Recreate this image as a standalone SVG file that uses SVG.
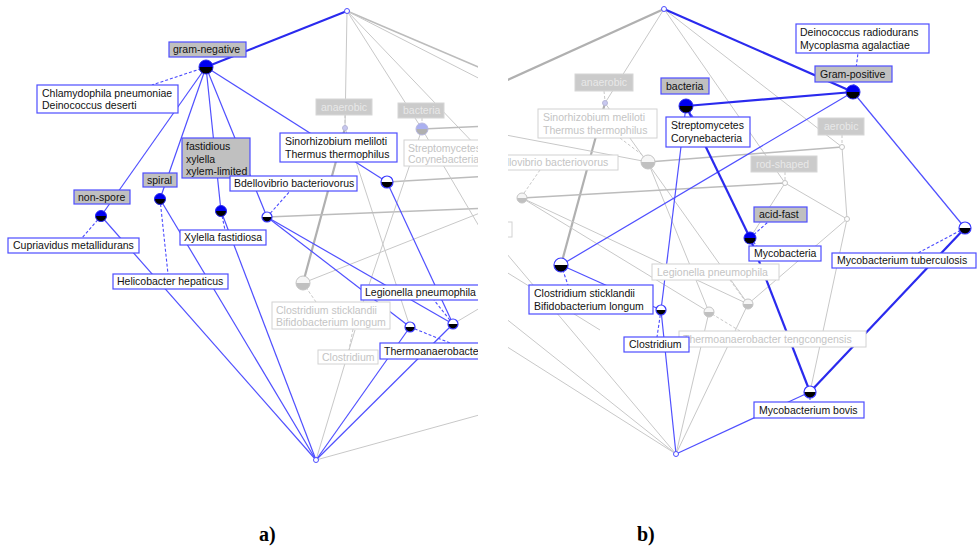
<svg xmlns="http://www.w3.org/2000/svg" xmlns:xlink="http://www.w3.org/1999/xlink" width="977" height="548" viewBox="0 0 977 548">
<style>
line{fill:none}
.gl{stroke:#c8c8c8;stroke-width:1}
.gm{stroke:#bcbcbc;stroke-width:1.6}
.gt{stroke:#b0b0b0;stroke-width:2.2}
.gd{stroke:#c8c8c8;stroke-width:1;stroke-dasharray:3 2}
.bl{stroke:#5050ff;stroke-width:1.2}
.bt{stroke:#2a2aee;stroke-width:2.2}
.bd{stroke:#4a4aff;stroke-width:1.1;stroke-dasharray:3 2}
.att{fill:#c0c0c0;stroke:#4d4dff;stroke-width:1.2}
.obj{fill:#fff;stroke:#4d4dff;stroke-width:1.2}
.fatt{fill:#cbcbcb;stroke:#d6d6d6;stroke-width:1}
.fobj{fill:#fff;stroke:#d2d2d2;stroke-width:1}
text{font-family:"Liberation Sans",Arial,sans-serif;font-size:10.5px;fill:#111}
text.ft{fill:#c4c4c4}
text.fa{fill:#e8e8e8}
text.cap{font-family:"Liberation Serif","Times New Roman",serif;font-size:20px;font-weight:bold;fill:#000}
</style>
<defs>
<clipPath id="cA"><rect x="0" y="0" width="478" height="480"/></clipPath>
<clipPath id="cB"><rect x="508" y="0" width="469" height="480"/></clipPath>
<g id="bb7"><circle r="7" fill="#0000f0"/><path d="M-7,0A7,7 0 0 0 7,0Z" fill="#000"/><circle r="7" fill="none" stroke="#2a2aee" stroke-width="1"/></g>
<g id="bb6"><circle r="6" fill="#0000f0"/><path d="M-6,0A6,6 0 0 0 6,0Z" fill="#000"/><circle r="6" fill="none" stroke="#2a2aee" stroke-width="1"/></g>
<g id="bb5"><circle r="5.5" fill="#0000f0"/><path d="M-5.5,0A5.5,5.5 0 0 0 5.5,0Z" fill="#000"/><circle r="5.5" fill="none" stroke="#2a2aee" stroke-width="1"/></g>
<g id="wb7"><circle r="7" fill="#fff"/><path d="M-7,0A7,7 0 0 0 7,0Z" fill="#000"/><circle r="7" fill="none" stroke="#3a3aff" stroke-width="1.2"/></g>
<g id="wb6"><circle r="6" fill="#fff"/><path d="M-6,0A6,6 0 0 0 6,0Z" fill="#000"/><circle r="6" fill="none" stroke="#3a3aff" stroke-width="1.2"/></g>
<g id="wb5"><circle r="5" fill="#fff"/><path d="M-5,0A5,5 0 0 0 5,0Z" fill="#000"/><circle r="5" fill="none" stroke="#3a3aff" stroke-width="1.2"/></g>
<g id="gr7"><circle r="7" fill="#f6f6f6"/><path d="M-7,0A7,7 0 0 0 7,0Z" fill="#c0c0c0"/><circle r="7" fill="none" stroke="#c4c4c4" stroke-width="1"/></g>
<g id="gr5"><circle r="5" fill="#f6f6f6"/><path d="M-5,0A5,5 0 0 0 5,0Z" fill="#c0c0c0"/><circle r="5" fill="none" stroke="#c4c4c4" stroke-width="1"/></g>
<g id="gb6"><circle r="6" fill="#aab0f0"/><path d="M-6,0A6,6 0 0 0 6,0Z" fill="#b0b0b0"/><circle r="6" fill="none" stroke="#b8b8e0" stroke-width="1"/></g>
<circle id="dotb" r="2.5" fill="#fff" stroke="#4d4dff" stroke-width="1"/>
<circle id="dotg" r="2.5" fill="#fff" stroke="#c4c4c4" stroke-width="1"/>
<circle id="dotlb" r="2.5" fill="#c8c8f0" stroke="#b8b8d8" stroke-width="1"/>
</defs>
<rect width="977" height="548" fill="#fff"/>

<!-- ===== Panel a ===== -->
<g id="panel-a" clip-path="url(#cA)">
<g id="connectors-a">
<line class="gl" x1="347" y1="11" x2="345" y2="128"/>
<line class="gl" x1="347" y1="11" x2="422" y2="129"/>
<line class="gm" x1="347" y1="11" x2="490" y2="72"/>
<line class="gl" x1="347" y1="11" x2="490" y2="84"/>
<line class="gl" x1="347" y1="11" x2="480" y2="150"/>
<line class="gt" x1="345" y1="128" x2="303" y2="283"/>
<line class="gl" x1="345" y1="128" x2="410" y2="327"/>
<line class="gm" x1="387" y1="182" x2="490" y2="176"/>
<line class="gm" x1="267" y1="217" x2="490" y2="208"/>
<line class="gl" x1="303" y1="283" x2="490" y2="209"/>
<line class="gm" x1="422" y1="129" x2="490" y2="126"/>
<line class="gl" x1="422" y1="129" x2="490" y2="245"/>
<line class="gl" x1="422" y1="129" x2="355" y2="326"/>
<line class="gl" x1="453" y1="324" x2="490" y2="302"/>
<line class="gl" x1="316" y1="460" x2="490" y2="412"/>
<line class="gl" x1="355" y1="330" x2="316" y2="460"/>
<line class="gd" x1="345" y1="115" x2="345" y2="126"/>
<line class="gd" x1="422" y1="118" x2="422" y2="124"/>
<line class="gd" x1="303" y1="283" x2="316" y2="302"/>
<line class="gd" x1="353" y1="329" x2="349" y2="350"/>
<line class="bt" x1="347" y1="11" x2="206" y2="67"/>
<line class="bl" x1="206" y1="67" x2="101" y2="216"/>
<line class="bl" x1="206" y1="67" x2="160" y2="199"/>
<line class="bl" x1="206" y1="67" x2="221" y2="211"/>
<line class="bl" x1="206" y1="67" x2="267" y2="217"/>
<line class="bl" x1="206" y1="67" x2="387" y2="182"/>
<line class="bl" x1="101" y1="216" x2="316" y2="460"/>
<line class="bl" x1="160" y1="199" x2="316" y2="460"/>
<line class="bl" x1="221" y1="211" x2="316" y2="460"/>
<line class="bl" x1="267" y1="217" x2="410" y2="327"/>
<line class="bl" x1="267" y1="217" x2="453" y2="324"/>
<line class="bl" x1="387" y1="182" x2="453" y2="324"/>
<line class="bl" x1="410" y1="327" x2="316" y2="460"/>
<line class="bl" x1="453" y1="324" x2="316" y2="460"/>
<line class="bd" x1="206" y1="67" x2="152" y2="85"/>
<line class="bd" x1="101" y1="216" x2="82" y2="238"/>
<line class="bd" x1="160" y1="199" x2="168" y2="274"/>
<line class="bd" x1="221" y1="211" x2="225" y2="230"/>
<line class="bd" x1="267" y1="217" x2="290" y2="191"/>
<line class="bd" x1="453" y1="324" x2="434" y2="300"/>
<line class="bd" x1="410" y1="327" x2="450" y2="343"/>
</g>

<g id="a-anaerobic"><rect class="fatt" x="316" y="99" width="56" height="16"/><text class="fa" x="321" y="111">anaerobic</text><use href="#dotlb" x="345" y="128"/></g>
<g id="a-bacteria"><rect class="fatt" x="398" y="103" width="46" height="15"/><text class="fa" x="403" y="114">bacteria</text><use href="#gb6" x="422" y="129"/></g>
<g id="a-strepto"><rect class="fobj" x="404" y="140" width="90" height="26"/><text class="ft" x="408" y="152">Streptomycetes</text><text class="ft" x="408" y="163">Corynebacteria</text></g>
<g id="a-stick"><use href="#gr7" x="303" y="283"/><rect class="fobj" x="272" y="302" width="118" height="27"/><text class="ft" x="276" y="314">Clostridium sticklandii</text><text class="ft" x="276" y="326">Bifidobacterium longum</text></g>
<g id="a-clostridium"><rect class="fobj" x="318" y="350" width="60" height="14"/><text class="ft" x="322" y="361">Clostridium</text></g>

<g id="a-top"><use href="#dotb" x="347" y="11"/></g>
<g id="a-gramneg"><rect class="att" x="169" y="42" width="77" height="15"/><text x="173" y="53">gram-negative</text><rect class="obj" x="37" y="85" width="141" height="28"/><text x="42" y="97">Chlamydophila pneumoniae</text><text x="42" y="109">Deinococcus deserti</text><use href="#bb7" x="206" y="67"/></g>
<g id="a-nonspore"><rect class="att" x="74" y="190" width="56" height="14"/><text x="78" y="201">non-spore</text><rect class="obj" x="8" y="238" width="131" height="15"/><text x="13" y="249">Cupriavidus metallidurans</text><use href="#bb5" x="101" y="216"/></g>
<g id="a-spiral"><rect class="att" x="143" y="173" width="34" height="14"/><text x="147" y="184">spiral</text><rect class="obj" x="113" y="274" width="115" height="15"/><text x="117" y="285">Helicobacter hepaticus</text><use href="#bb5" x="160" y="199"/></g>
<g id="a-fastidious"><rect class="att" x="182" y="138" width="68" height="40"/><text x="186" y="150">fastidious</text><text x="186" y="163">xylella</text><text x="186" y="175">xylem-limited</text><rect class="obj" x="180" y="230" width="86" height="15"/><text x="184" y="241">Xylella fastidiosa</text><use href="#bb5" x="221" y="211"/></g>
<g id="a-bdello"><rect class="obj" x="230" y="176" width="127" height="15"/><text x="234" y="187">Bdellovibrio bacteriovorus</text><use href="#wb5" x="267" y="217"/></g>
<g id="a-sinorhizobium"><rect class="obj" x="280" y="133" width="117" height="29"/><text x="285" y="145">Sinorhizobium meliloti</text><text x="285" y="158">Thermus thermophilus</text><use href="#wb6" x="387" y="182"/></g>
<g id="a-legionella"><rect class="obj" x="361" y="285" width="130" height="15"/><text x="365" y="296">Legionella pneumophila</text><use href="#wb5" x="453" y="324"/></g>
<g id="a-thermo"><rect class="obj" x="380" y="343" width="180" height="16"/><text x="384" y="355">Thermoanaerobacter tengcongensis</text><use href="#wb5" x="410" y="327"/></g>
<g id="a-bottom"><use href="#dotb" x="316" y="460"/></g>
</g>

<!-- ===== Panel b ===== -->
<g id="panel-b" clip-path="url(#cB)">
<g id="connectors-b">
<line class="gt" x1="664" y1="9" x2="490" y2="88"/>
<line class="gl" x1="664" y1="9" x2="605" y2="103"/>
<line class="gl" x1="664" y1="9" x2="842" y2="147"/>
<line class="gl" x1="664" y1="9" x2="785" y2="183"/>
<line class="gt" x1="605" y1="103" x2="561" y2="265"/>
<line class="gl" x1="605" y1="103" x2="748" y2="304"/>
<line class="gl" x1="490" y1="132" x2="648" y2="162"/>
<line class="gm" x1="648" y1="162" x2="842" y2="147"/>
<line class="gl" x1="648" y1="162" x2="709" y2="312"/>
<line class="gm" x1="522" y1="198" x2="785" y2="183"/>
<line class="gl" x1="522" y1="198" x2="748" y2="304"/>
<line class="gl" x1="522" y1="198" x2="709" y2="312"/>
<line class="gl" x1="785" y1="183" x2="847" y2="219"/>
<line class="gl" x1="785" y1="183" x2="750" y2="238"/>
<line class="gl" x1="842" y1="147" x2="847" y2="219"/>
<line class="gl" x1="847" y1="219" x2="748" y2="304"/>
<line class="gl" x1="847" y1="219" x2="810" y2="392"/>
<line class="gl" x1="709" y1="312" x2="676" y2="454"/>
<line class="gl" x1="748" y1="304" x2="676" y2="454"/>
<line class="gl" x1="490" y1="234" x2="676" y2="454"/>
<line class="gl" x1="490" y1="306" x2="676" y2="454"/>
<line class="gl" x1="490" y1="336" x2="676" y2="454"/>
<line class="gl" x1="490" y1="262" x2="600" y2="330"/>
<line class="gd" x1="604" y1="91" x2="605" y2="101"/>
<line class="gd" x1="620" y1="138" x2="645" y2="157"/>
<line class="gd" x1="540" y1="170" x2="522" y2="196"/>
<line class="gd" x1="842" y1="135" x2="842" y2="146"/>
<line class="gd" x1="785" y1="172" x2="785" y2="182"/>
<line class="gd" x1="730" y1="280" x2="746" y2="302"/>
<line class="gd" x1="712" y1="314" x2="740" y2="331"/>
<line class="bt" x1="664" y1="9" x2="853" y2="92"/>
<line class="bt" x1="686" y1="106" x2="853" y2="92"/>
<line class="bl" x1="853" y1="92" x2="965" y2="228"/>
<line class="bl" x1="853" y1="92" x2="561" y2="265"/>
<line class="bt" x1="686" y1="106" x2="750" y2="238"/>
<line class="bl" x1="686" y1="106" x2="661" y2="310"/>
<line class="bl" x1="561" y1="265" x2="661" y2="310"/>
<line class="bl" x1="661" y1="310" x2="676" y2="454"/>
<line class="bt" x1="750" y1="238" x2="810" y2="392"/>
<line class="bt" x1="965" y1="228" x2="810" y2="392"/>
<line class="bl" x1="810" y1="392" x2="676" y2="454"/>
<line class="bd" x1="853" y1="92" x2="858" y2="53"/>
<line class="bd" x1="686" y1="106" x2="693" y2="117"/>
<line class="bd" x1="561" y1="265" x2="568" y2="285"/>
<line class="bd" x1="661" y1="310" x2="657" y2="337"/>
<line class="bd" x1="750" y1="238" x2="768" y2="222"/>
<line class="bd" x1="750" y1="238" x2="757" y2="246"/>
<line class="bd" x1="965" y1="228" x2="918" y2="253"/>
<line class="bd" x1="810" y1="392" x2="810" y2="402"/>
</g>

<g id="b-anaerobic"><rect class="fatt" x="575" y="74" width="58" height="17"/><text class="fa" x="581" y="86">anaerobic</text><use href="#dotlb" x="605" y="103"/></g>
<g id="b-sinorhizobium"><rect class="fobj" x="538" y="109" width="119" height="29"/><text class="ft" x="543" y="121">Sinorhizobium meliloti</text><text class="ft" x="543" y="134">Thermus thermophilus</text><use href="#gr7" x="648" y="162"/></g>
<g id="b-bdello"><rect class="fobj" x="484" y="155" width="134" height="15"/><text class="ft" x="488" y="166">Bdellovibrio bacteriovorus</text><use href="#gr5" x="522" y="198"/></g>
<g id="b-cut"><rect class="fobj" x="470" y="222" width="42" height="15"/></g>
<g id="b-aerobic"><rect class="fatt" x="818" y="118" width="46" height="17"/><text class="fa" x="824" y="130">aerobic</text><use href="#dotg" x="842" y="147"/></g>
<g id="b-rod"><rect class="fatt" x="751" y="156" width="66" height="16"/><text class="fa" x="756" y="168">rod-shaped</text><use href="#dotg" x="785" y="183"/></g>
<g id="b-n847"><use href="#dotg" x="847" y="219"/></g>
<g id="b-legionella"><rect class="fobj" x="652" y="264" width="127" height="16"/><text class="ft" x="657" y="276">Legionella pneumophila</text><use href="#gr5" x="748" y="304"/></g>
<g id="b-thermo"><rect class="fobj" x="679" y="331" width="187" height="16"/><text class="ft" x="683" y="343">Thermoanaerobacter tengcongensis</text><use href="#gr5" x="709" y="312"/></g>

<g id="b-top"><use href="#dotb" x="664" y="9"/></g>
<g id="b-grampos"><rect class="obj" x="796" y="24" width="133" height="29"/><text x="800" y="36">Deinococcus radiodurans</text><text x="800" y="49">Mycoplasma agalactiae</text><rect class="att" x="815" y="66" width="77" height="16"/><text x="820" y="78">Gram-positive</text><use href="#bb7" x="853" y="92"/></g>
<g id="b-bacteria"><rect class="att" x="661" y="78" width="48" height="16"/><text x="666" y="90">bacteria</text><rect class="obj" x="666" y="117" width="84" height="30"/><text x="671" y="129">Streptomycetes</text><text x="671" y="142">Corynebacteria</text><use href="#bb7" x="686" y="106"/></g>
<g id="b-stick"><rect class="obj" x="529" y="285" width="124" height="29"/><text x="534" y="297">Clostridium sticklandii</text><text x="534" y="310">Bifidobacterium longum</text><use href="#wb7" x="561" y="265"/></g>
<g id="b-clostridium"><rect class="obj" x="624" y="337" width="65" height="15"/><text x="629" y="348">Clostridium</text><use href="#wb5" x="661" y="310"/></g>
<g id="b-myco"><rect class="att" x="754" y="207" width="53" height="15"/><text x="759" y="218">acid-fast</text><rect class="obj" x="749" y="246" width="72" height="15"/><text x="754" y="257">Mycobacteria</text><use href="#bb6" x="750" y="238"/></g>
<g id="b-tuberculosis"><rect class="obj" x="832" y="253" width="144" height="15"/><text x="837" y="264">Mycobacterium tuberculosis</text><use href="#wb6" x="965" y="228"/></g>
<g id="b-bovis"><rect class="obj" x="754" y="402" width="110" height="16"/><text x="759" y="414">Mycobacterium bovis</text><use href="#wb6" x="810" y="392"/></g>
<g id="b-bottom"><use href="#dotb" x="676" y="454"/></g>
</g>

<text class="cap" x="259" y="541">a)</text>
<text class="cap" x="637" y="541">b)</text>
</svg>
